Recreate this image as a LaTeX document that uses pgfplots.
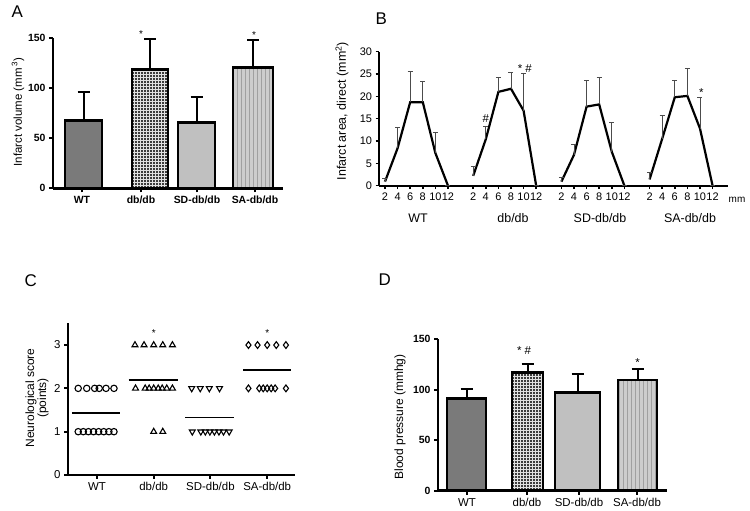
\documentclass[border=0pt]{standalone}
\usepackage{pgfplots}
\pgfplotsset{compat=1.18}
\usepackage{fontspec}
\setmainfont{Liberation Sans}
\usetikzlibrary{patterns}
\pgfdeclarepatternformonly{thickgrid}{\pgfqpoint{-1pt}{-1pt}}{\pgfqpoint{4pt}{4pt}}{\pgfqpoint{3pt}{3pt}}{%
 \pgfsetlinewidth{0.7pt}%
 \pgfpathmoveto{\pgfqpoint{0pt}{-0.5pt}}\pgfpathlineto{\pgfqpoint{0pt}{3.5pt}}%
 \pgfpathmoveto{\pgfqpoint{-0.5pt}{0pt}}\pgfpathlineto{\pgfqpoint{3.5pt}{0pt}}%
 \pgfusepath{stroke}}
\pgfdeclarepatternformonly{vlines}{\pgfqpoint{-1pt}{-1pt}}{\pgfqpoint{5pt}{5pt}}{\pgfqpoint{4pt}{4pt}}{%
 \pgfsetlinewidth{0.6pt}%
 \pgfpathmoveto{\pgfqpoint{2pt}{-0.5pt}}\pgfpathlineto{\pgfqpoint{2pt}{4.5pt}}%
 \pgfusepath{stroke}}
\newcommand\fs[1]{\fontsize{#1}{#1}\selectfont}
\definecolor{wtgray}{RGB}{122,122,122}
\definecolor{dbgray}{RGB}{60,60,60}
\definecolor{dbgrid}{RGB}{225,225,225}
\definecolor{sdgray}{RGB}{192,192,192}
\definecolor{sagray}{RGB}{205,205,205}
\definecolor{salines}{RGB}{160,160,160}
\pgfplotsset{
 prism/.style={scale only axis, anchor=south west,
  axis x line*=bottom, axis y line*=left,
  axis line style={line width=2.5bp, black},
  tick style={line width=2bp, black}, tick align=outside,
  major tick length=4bp, clip=false,
  /pgf/number format/assume math mode=true,
  xtick pos=bottom, ytick pos=left},
 errb/.style={error bars/y dir=plus, error bars/y explicit,
  error bars/error bar style={line width=2bp, black},
  error bars/error mark options={rotate=90, line width=2bp, black, mark size=6bp}},
 errl/.style={error bars/y dir=plus, error bars/y explicit,
  error bars/error bar style={line width=0.6bp, black!70},
  error bars/error mark options={rotate=90, line width=0.6bp, black!70, mark size=2.5bp}},
 barst/.style={ybar, bar shift=0pt, draw=black, line width=2.5bp},
}
\begin{document}
\begin{tikzpicture}[x=1bp,y=1bp]
\useasboundingbox (0,0) rectangle (750,511);

% ---------------- Panel A
\begin{axis}[prism, at={(53bp,322.7bp)}, width=230bp, height=150.6bp,
 xmin=0, xmax=230, ymin=0, ymax=150,
 ytick={0,50,100,150}, xtick={29,88,144,202},
 xticklabels={WT,db/db,SD-db/db,SA-db/db},
 tick label style={font=\fs{10.5}\bfseries},
]
\addplot[barst, bar width=37, fill=wtgray, errb] coordinates {(30.5,67.3) +- (0,28.3)};
\addplot[barst, bar width=36, preaction={fill=dbgray}, pattern=thickgrid, pattern color=dbgrid, errb] coordinates {(97,118.5) +- (0,30.2)};
\addplot[barst, bar width=37, fill=sdgray, errb] coordinates {(143.5,65.7) +- (0,25.6)};
\addplot[barst, bar width=40, preaction={fill=sagray}, pattern=vlines, pattern color=salines, errb] coordinates {(200,120.5) +- (0,26.9)};
\node[anchor=base, font=\fs{10}] at (axis cs:88,150) {*};
\node[anchor=base, font=\fs{10}] at (axis cs:201,149.5) {*};
\end{axis}
\node[anchor=base west, font=\fs{17}] at (8bp,493bp) {A};
\node[rotate=90, font=\fs{11.5}] at (18bp,399bp) {Infarct volume (mm\,\textsuperscript{3})};

% ---------------- Panel B
\begin{axis}[prism, at={(379bp,325.3bp)}, width=349bp, height=134bp,
 xmin=1.05, xmax=56.45, ymin=0, ymax=30,
 axis line style={line width=2bp, black},
 tick style={line width=1.5bp, black}, major tick length=3.5bp,
 ytick={0,5,10,15,20,25,30},
 xtick={2,4,6,8,10,12,16,18,20,22,24,26,30,32,34,36,38,40,44,46,48,50,52,54},
 xticklabels={2,4,6,8,10,12,2,4,6,8,10,12,2,4,6,8,10,12,2,4,6,8,10,12},
 tick label style={font=\fs{11}},
 xticklabel style={inner xsep=0pt},
]
\addplot[line width=2.2bp, black, errl] coordinates {(2,0.9) +- (0,0.8) (4,8.4) +- (0,4.7) (6,18.7) +- (0,6.8) (8,18.7) +- (0,4.7) (10,7.3) +- (0,4.6) (12,0) +- (0,0)};
\addplot[line width=2.2bp, black, errl] coordinates {(16,2.2) +- (0,2.1) (18,10.4) +- (0,2.9) (20,21.0) +- (0,3.2) (22,21.7) +- (0,3.7) (24,16.8) +- (0,8.3) (26,0) +- (0,0)};
\addplot[line width=2.2bp, black, errl] coordinates {(30,0.9) +- (0,1.0) (32,6.9) +- (0,2.4) (34,17.7) +- (0,6.0) (36,18.2) +- (0,6.0) (38,7.6) +- (0,6.7) (40,0) +- (0,0)};
\addplot[line width=2.2bp, black, errl] coordinates {(44,1.4) +- (0,1.7) (46,10.5) +- (0,5.3) (48,19.8) +- (0,3.7) (50,20.1) +- (0,6.2) (52,12.8) +- (0,7.1) (54,0) +- (0,0)};
\node[anchor=base, font=\fs{11.5}] at (axis cs:18,14.2) {\#};
\node[anchor=base, font=\fs{11.5}] at (axis cs:24.2,25.4) {* \#};
\node[anchor=base, font=\fs{11.5}] at (axis cs:52.2,19.9) {*};
\end{axis}
\node[anchor=base west, font=\fs{17}] at (372bp,486bp) {B};
\node[rotate=90, font=\fs{12.5}] at (342bp,400bp) {Infarct area, direct (mm\textsuperscript{2})};
\node[font=\fs{10}] at (737bp,311bp) {mm};
\node[anchor=base, font=\fs{12.5}] at (418bp,288bp) {WT};
\node[anchor=base, font=\fs{12.5}] at (513bp,288bp) {db/db};
\node[anchor=base, font=\fs{12.5}] at (600bp,288bp) {SD-db/db};
\node[anchor=base, font=\fs{12.5}] at (690bp,288bp) {SA-db/db};

% ---------------- Panel C
\begin{axis}[prism, at={(68bp,36bp)}, width=227bp, height=151.6bp,
 xmin=-0.51, xmax=3.49, ymin=0, ymax=3.5,
 ytick={0,1,2,3}, xtick={0,1,2,3},
 xticklabels={WT,db/db,SD-db/db,SA-db/db},
 tick label style={font=\fs{11.5}},
]
\addplot[only marks, mark=o, mark size=3.2bp, mark options={line width=1.1bp, black}] coordinates {
(-0.33,2) (-0.18,2) (-0.04,2) (0.04,2) (0.16,2) (0.30,2)
(-0.33,1) (-0.24,1) (-0.15,1) (-0.06,1) (0.03,1) (0.12,1) (0.21,1) (0.30,1)};
\addplot[only marks, mark=triangle, mark size=3.4bp, mark options={line width=1.1bp, black}] coordinates {
(0.67,3) (0.83,3) (1.0,3) (1.16,3) (1.33,3)
(0.68,2) (0.85,2) (0.92,2) (1.0,2) (1.08,2) (1.15,2) (1.23,2) (1.33,2)
(1.0,1) (1.16,1)};
\addplot[only marks, mark=triangle, mark size=3.4bp, mark options={line width=1.1bp, black, rotate=180}] coordinates {
(1.67,2) (1.82,2) (1.98,2) (2.16,2)
(1.68,1) (1.83,1) (1.91,1) (1.99,1) (2.07,1) (2.15,1) (2.23,1) (2.33,1)};
\addplot[only marks, mark=diamond, mark size=3.4bp, mark options={line width=1.1bp, black}] coordinates {
(2.67,3) (2.83,3) (3.0,3) (3.16,3) (3.33,3)
(2.67,2) (2.86,2) (2.93,2) (3.0,2) (3.07,2) (3.14,2) (3.33,2)};
\addplot[line width=1.6bp, black] coordinates {(-0.44,1.43) (0.40,1.43)};
\addplot[line width=1.6bp, black] coordinates {(0.56,2.19) (1.42,2.19)};
\addplot[line width=1.6bp, black] coordinates {(1.56,1.33) (2.42,1.33)};
\addplot[line width=1.6bp, black] coordinates {(2.58,2.42) (3.42,2.42)};
\node[anchor=base, font=\fs{10}] at (axis cs:1,3.19) {*};
\node[anchor=base, font=\fs{10}] at (axis cs:3,3.19) {*};
\end{axis}
\node[anchor=base west, font=\fs{17}] at (21bp,224bp) {C};
\node[rotate=90, font=\fs{12}, align=center] at (37bp,113bp) {Neurological score\\(points)};

% ---------------- Panel D
\begin{axis}[prism, at={(438bp,20.3bp)}, width=229bp, height=151.4bp,
 xmin=0, xmax=229, ymin=0, ymax=150,
 ytick={0,50,100,150}, xtick={29,89,141,199},
 xticklabels={WT,db/db,SD-db/db,SA-db/db},
 yticklabel style={font=\fs{10.5}\bfseries},
 xticklabel style={font=\fs{11.5}},
]
\addplot[barst, bar width=39, fill=wtgray, errb] coordinates {(28.5,91.5) +- (0,9.5)};
\addplot[barst, bar width=31, preaction={fill=dbgray}, pattern=thickgrid, pattern color=dbgrid, errb] coordinates {(89.5,117.3) +- (0,8.5)};
\addplot[barst, bar width=45, fill=sdgray, errb] coordinates {(139.5,97.5) +- (0,18.1)};
\addplot[barst, bar width=39, preaction={fill=sagray}, pattern=vlines, pattern color=salines, errb] coordinates {(199.5,109.7) +- (0,11.2)};
\node[anchor=base, font=\fs{11.5}] at (axis cs:86,135) {* \#};
\node[anchor=base, font=\fs{11.5}] at (axis cs:199.5,123) {*};
\end{axis}
\node[anchor=base west, font=\fs{17}] at (375bp,225bp) {D};
\node[rotate=90, font=\fs{12}] at (400bp,94bp) {Blood pressure (mmhg)};
\end{tikzpicture}
\end{document}
